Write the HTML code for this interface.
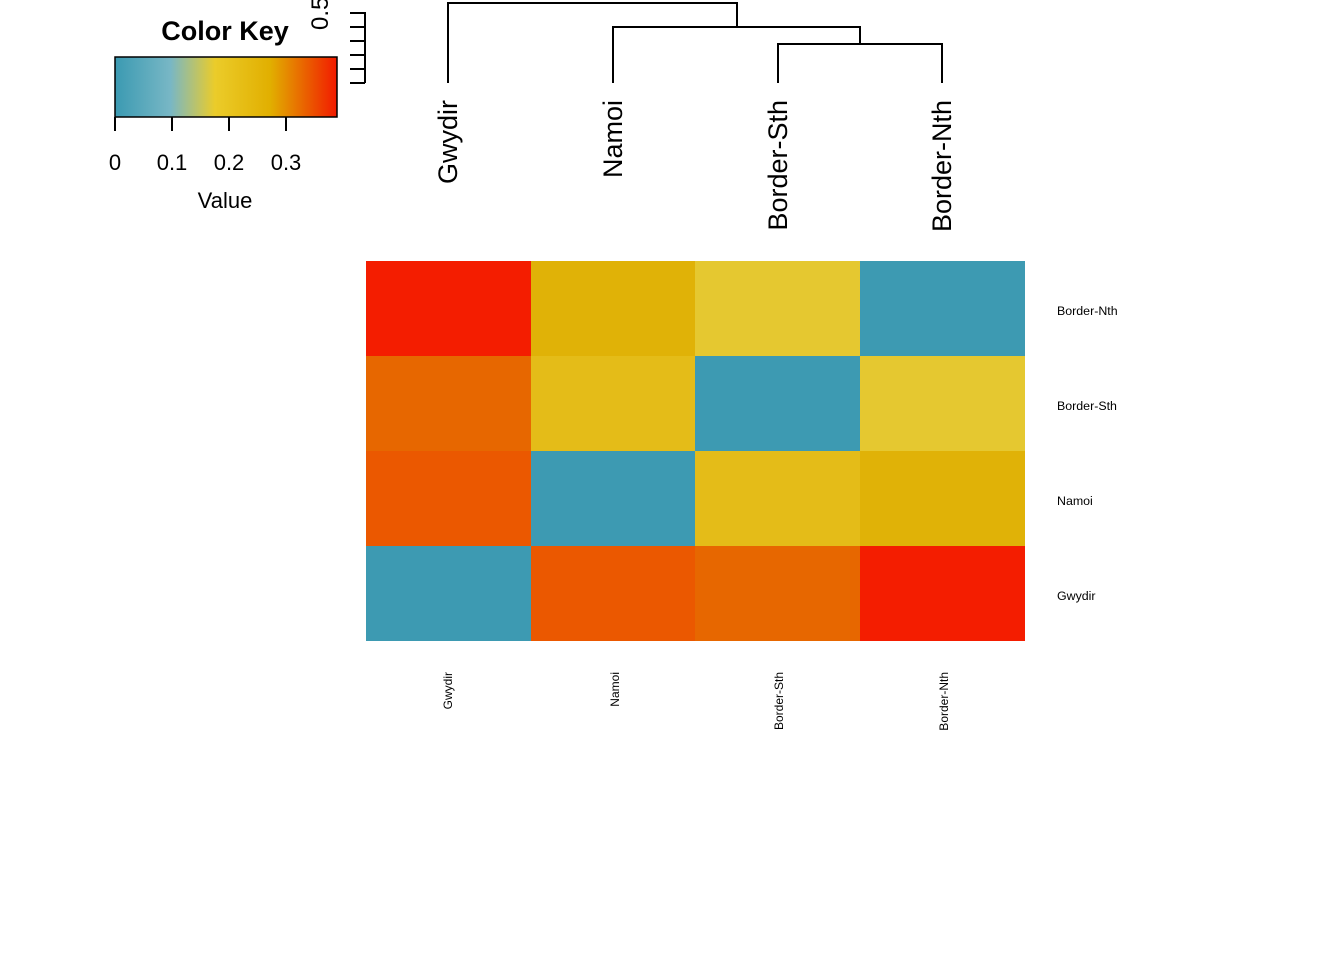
<!DOCTYPE html>
<html><head><style>body{margin:0;background:#fff}</style></head><body>
<svg width="1344" height="960" xmlns="http://www.w3.org/2000/svg" font-family="Liberation Sans, sans-serif">
<defs><linearGradient id="g" x1="0" x2="1" y1="0" y2="0">
<stop offset="0" stop-color="#3B9AB2"/><stop offset="0.25" stop-color="#78B7C5"/><stop offset="0.45" stop-color="#EBCC2A"/><stop offset="0.7" stop-color="#E1AF00"/><stop offset="1" stop-color="#F21A00"/></linearGradient></defs>
<text x="225" y="40" font-size="27" font-weight="bold" text-anchor="middle">Color Key</text>
<rect x="115" y="57" width="222" height="60" fill="url(#g)" stroke="#000" stroke-width="1.5"/>
<g stroke="#000" stroke-width="2"><line x1="115" y1="117" x2="115" y2="131"/><line x1="172" y1="117" x2="172" y2="131"/><line x1="229" y1="117" x2="229" y2="131"/><line x1="286" y1="117" x2="286" y2="131"/></g>
<g font-size="22" text-anchor="middle"><text x="115" y="170">0</text><text x="172" y="170">0.1</text><text x="229" y="170">0.2</text><text x="286" y="170">0.3</text><text x="225" y="208">Value</text></g>
<g stroke="#000" stroke-width="2" fill="none">
<path d="M365 12V83"/><path d="M350 13H365M350 27H365M350 41H365M350 55H365M350 69H365M350 83H365"/>
<path d="M448 83V3H737V27M613 83V27H860V44M778 83V44H942V83"/>
</g>
<text transform="translate(328,30) rotate(-90)" font-size="24">0.5</text>
<g font-size="27" text-anchor="end">
<text transform="translate(457,100) rotate(-90)">Gwydir</text>
<text transform="translate(622,100) rotate(-90)">Namoi</text>
<text transform="translate(787,100) rotate(-90)">Border-Sth</text>
<text transform="translate(951,100) rotate(-90)">Border-Nth</text>
</g>
<g shape-rendering="crispEdges">
<rect x="366" y="261" width="165" height="95" fill="#F41D00"/><rect x="531" y="261" width="164" height="95" fill="#E0B207"/><rect x="695" y="261" width="165" height="95" fill="#E5C830"/><rect x="860" y="261" width="165" height="95" fill="#3D9AB2"/>
<rect x="366" y="356" width="165" height="95" fill="#E76700"/><rect x="531" y="356" width="164" height="95" fill="#E4BC18"/><rect x="695" y="356" width="165" height="95" fill="#3D9AB2"/><rect x="860" y="356" width="165" height="95" fill="#E5C830"/>
<rect x="366" y="451" width="165" height="95" fill="#EB5800"/><rect x="531" y="451" width="164" height="95" fill="#3D9AB2"/><rect x="695" y="451" width="165" height="95" fill="#E4BC18"/><rect x="860" y="451" width="165" height="95" fill="#E0B207"/>
<rect x="366" y="546" width="165" height="95" fill="#3D9AB2"/><rect x="531" y="546" width="164" height="95" fill="#EB5800"/><rect x="695" y="546" width="165" height="95" fill="#E76700"/><rect x="860" y="546" width="165" height="95" fill="#F41D00"/>
</g>
<g font-size="12.4"><text x="1057" y="315">Border-Nth</text><text x="1057" y="410">Border-Sth</text><text x="1057" y="505">Namoi</text><text x="1057" y="600">Gwydir</text></g>
<g font-size="12" text-anchor="end">
<text transform="translate(452,672) rotate(-90)">Gwydir</text>
<text transform="translate(619,672) rotate(-90)">Namoi</text>
<text transform="translate(783,672) rotate(-90)">Border-Sth</text>
<text transform="translate(948,672) rotate(-90)">Border-Nth</text>
</g>
</svg>
</body></html>
